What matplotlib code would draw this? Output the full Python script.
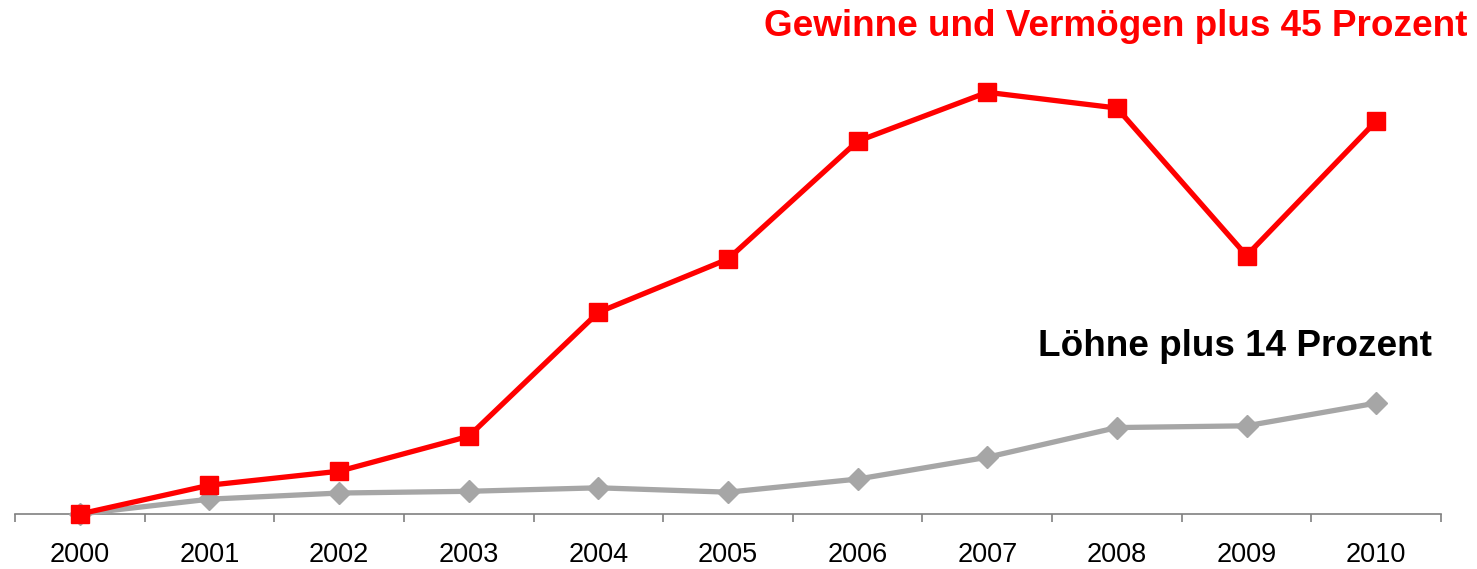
import numpy as np
import matplotlib
matplotlib.use("Agg")
import matplotlib.pyplot as plt
from matplotlib.ticker import FixedLocator

plt.rcParams['font.family'] = ['Liberation Sans', 'DejaVu Sans']

years = ["2000", "2001", "2002", "2003", "2004", "2005",
         "2006", "2007", "2008", "2009", "2010"]
gewinne = [0, 3.3, 4.9, 8.9, 23.1, 29.2, 42.7, 48.3, 46.5, 29.6, 45.0]
loehne = [0, 1.7, 2.4, 2.6, 3.0, 2.5, 4.0, 6.5, 9.9, 10.1, 12.7]

fig = plt.figure(figsize=(14.77, 5.69), dpi=100)
ax = fig.add_axes([15/1477, 1 - 514/569, (1441 - 15)/1477, (514 - 60)/569])

x = np.arange(len(years))
ax.plot(x, loehne, color="#a6a6a6", lw=3.8, marker="D", ms=11.5,
        clip_on=False, zorder=3)
ax.plot(x, gewinne, color="#ff0000", lw=3.8, marker="s", ms=13.5,
        clip_on=False, zorder=4)

ax.set_xlim(-0.5, len(years) - 0.5)
ax.set_ylim(0, 52)
ax.set_xticks(x)
ax.set_xticklabels(years, fontsize=19.5)
ax.tick_params(axis="x", which="major", length=0, pad=20)
ax.xaxis.set_minor_locator(FixedLocator(np.arange(-0.5, len(years), 1.0)))
ax.tick_params(axis="x", which="minor", length=6, width=1.2, color="#808080")
ax.set_yticks([])
for s in ["top", "right", "left"]:
    ax.spines[s].set_visible(False)
ax.spines["bottom"].set_color("#808080")
ax.spines["bottom"].set_linewidth(1.2)

fig.text(1468/1477, 1 - 27/569, "Gewinne und Vermögen plus 45 Prozent",
         color="#ff0000", fontsize=26.6, fontweight="bold", ha="right", va="center")
fig.text(1432/1477, 1 - 346/569, "Löhne plus 14 Prozent",
         color="black", fontsize=26.6, fontweight="bold", ha="right", va="center")

fig.savefig("out.png", dpi=100)
